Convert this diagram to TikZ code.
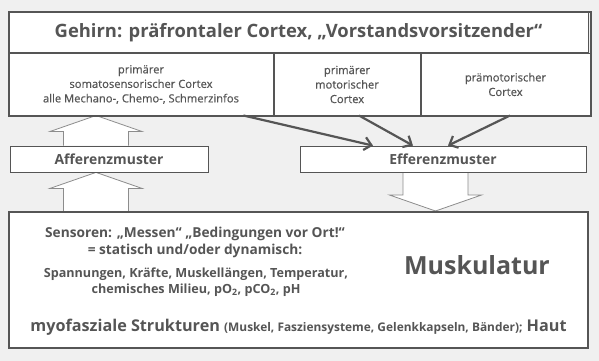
\documentclass[tikz,border=0pt]{standalone}
\usepackage{fontspec}
\setmainfont{Open Sans}
\newfontfamily\cellfont[FakeBold=0.5]{Open Sans}
\usetikzlibrary{arrows.meta, positioning, calc, backgrounds}
\definecolor{ink}{HTML}{555555}
\definecolor{paper}{HTML}{F0F0F0}
\definecolor{hollowline}{HTML}{8C8C8C}

% open block arrow from tail #1 to tip #2
\newcommand{\hollowarrow}[2]{%
  \coordinate (neck) at ($(#2)!16pt!(#1)$);
  \draw[hollow] ($(#1)+(-32.5,0)$) -- ($(neck)+(-32.5,0)$) -- ($(neck)+(-46,0)$)
    -- (#2) -- ($(neck)+(46,0)$) -- ($(neck)+(32.5,0)$) -- ($(#1)+(32.5,0)$);
}

\begin{document}
\begin{tikzpicture}[
    x=1pt, y=-1pt,
    text=ink,
    cell/.style={rectangle, draw=ink, line width=1pt, fill=white,
                 minimum height=61pt, inner sep=0pt, align=center,
                 font=\cellfont\fontsize{11.2}{14.5}\selectfont},
    headbox/.style={rectangle, draw=ink, line width=1pt, fill=white,
                    minimum width=579pt, minimum height=40pt, inner sep=0pt,
                    font=\bfseries\fontsize{18.4}{22}\selectfont},
    pattern/.style={rectangle, draw=ink, line width=0.8pt, fill=white,
                    minimum height=26pt, inner sep=0pt,
                    font=\bfseries\fontsize{13.9}{16}\selectfont},
    frame/.style={draw=ink, line width=2pt},
    arr/.style={-{Straight Barb[length=7pt, width=13pt]}, draw=ink, line width=2.2pt},
    hollow/.style={draw=hollowline, line width=0.8pt, fill=white},
    txt/.style={inner sep=0pt, align=center}
  ]

  \useasboundingbox (0,0) rectangle (599,361);
  \begin{scope}[on background layer]
    \fill[paper] (0,0) rectangle (599,361);
  \end{scope}

  % brain
  \node[headbox] (brain) at (298.5,33) {Gehirn: präfrontaler Cortex, „Vorstandsvorsitzender“};
  \node[cell, minimum width=264pt, anchor=north west] (sens) at (brain.south west)
        {primärer\\somatosensorischer Cortex\\alle Mechano-, Chemo-, Schmerzinfos};
  \node[cell, minimum width=146pt, anchor=north west] (motor) at (sens.north east)
        {primärer\\motorischer\\Cortex};
  \node[cell, minimum width=169pt, anchor=north west] (premotor) at (motor.north east)
        {prämotorischer\\Cortex};
  \draw[frame] (brain.north west) rectangle (premotor.south east);

  % patterns
  \node[pattern, minimum width=198pt] (aff) at (109,159) {Afferenzmuster};
  \node[pattern, minimum width=286pt] (eff) at (443,159) {Efferenzmuster};

  % muscles
  \node[rectangle, frame, fill=white, minimum width=579pt, minimum height=136pt]
        (muscle) at (298.5,280) {};
  \node[txt, font=\bfseries\fontsize{13.7}{17}\selectfont] (sensor) at (195,242)
        {Sensoren: „Messen“ „Bedingungen vor Ort!“\\= statisch und/oder dynamisch:};
  \node[txt, font=\bfseries\fontsize{12.6}{16}\selectfont] (values) at (196,282)
        {Spannungen, Kräfte, Muskellängen, Temperatur,\\chemisches Milieu, pO\textsubscript{2}, pCO\textsubscript{2}, pH};
  \node[txt, font=\bfseries\fontsize{25}{30}\selectfont] (musk) at (477,265) {Muskulatur};
  \node[txt, font=\bfseries\fontsize{16.2}{19}\selectfont] (myo) at (298.5,327)
        {myofasziale Strukturen {\fontsize{11.9}{13}\selectfont (Muskel, Fasziensysteme, Gelenkkapseln, Bänder);} Haut};

  % block arrows
  \coordinate (upx) at (96,0);
  \coordinate (dnx) at (435.5,0);
  \coordinate (a1) at (upx |- aff.north);
  \coordinate (b1) at (upx |- sens.south);
  \coordinate (a2) at (upx |- muscle.north);
  \coordinate (b2) at (upx |- aff.south);
  \coordinate (a3) at (dnx |- eff.south);
  \coordinate (b3) at (dnx |- muscle.north);
  \begin{scope}[on background layer]
    \hollowarrow{a1}{b1}
    \hollowarrow{a2}{b2}
    \hollowarrow{a3}{b3}
  \end{scope}

  % cortex to efference
  \draw[arr] ($(sens.south east)+(-30,0)$) -- ($(eff.north)+(-70,0)$);
  \draw[arr] ($(motor.south)+(12,0)$) -- ($(eff.north)+(-30,0)$);
  \draw[arr] ($(premotor.south)+(4.5,0)$) -- ($(eff.north)+(5,0)$);

\end{tikzpicture}
\end{document}
